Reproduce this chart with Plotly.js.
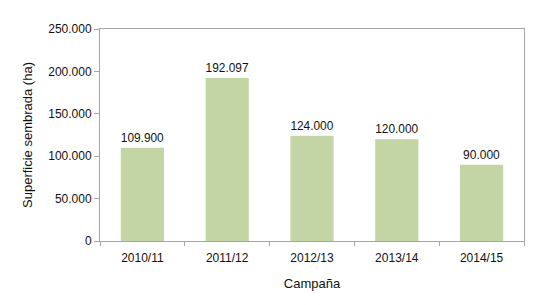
<!DOCTYPE html>
<html>
<head>
<meta charset="utf-8">
<script src="https://cdn.plot.ly/plotly-3.0.1.min.js"></script>
<style>html,body{margin:0;padding:0;background:#fff;}#chart{width:542px;height:305px;}</style>
</head>
<body>
<div id="chart"></div>
<script>
const campaigns = ["2010/11", "2011/12", "2012/13", "2013/14", "2014/15"];
const surface = [109900, 192097, 124000, 120000, 90000];
const yTicks = [0, 50000, 100000, 150000, 200000, 250000];

const trace = {
  type: "bar",
  x: campaigns,
  y: surface,
  width: 0.51,
  marker: {color: "#c3d5a5", line: {width: 0}},
  texttemplate: "%{y:,.0f}",
  textposition: "outside",
  cliponaxis: false,
  textfont: {family: "Liberation Sans, Arial, sans-serif", size: 12, color: "#111"},
  hoverinfo: "none"
};

const layout = {
  width: 542,
  height: 305,
  margin: {l: 100, r: 18, t: 29, b: 64},
  paper_bgcolor: "#fff",
  plot_bgcolor: "#fff",
  separators: ",.",
  showlegend: false,
  font: {family: "Liberation Sans, Arial, sans-serif", size: 12, color: "#111"},
  xaxis: {
    type: "category",
    showline: true, mirror: true, linecolor: "#a6a6a6", linewidth: 1,
    ticks: "outside", tickson: "boundaries", ticklen: 4, tickcolor: "#a6a6a6",
    ticklabelstandoff: 6,
    showgrid: false, zeroline: false,
    tickfont: {size: 12, color: "#111"},
    title: {text: "Campaña", font: {size: 13, color: "#111"}, standoff: 14}
  },
  yaxis: {
    range: [0, 250000],
    tickvals: yTicks,
    tickformat: ",d",
    showline: true, mirror: true, linecolor: "#a6a6a6", linewidth: 1,
    ticks: "outside", ticklen: 5, tickcolor: "#a6a6a6",
    showgrid: false, zeroline: false,
    tickfont: {size: 12, color: "#111"},
    title: {text: "Superficie sembrada (ha)", font: {size: 13, color: "#111"}, standoff: 12}
  },
  bargap: 0.49
};

Plotly.newPlot("chart", [trace], layout, {staticPlot: true, displayModeBar: false});
</script>
</body>
</html>
